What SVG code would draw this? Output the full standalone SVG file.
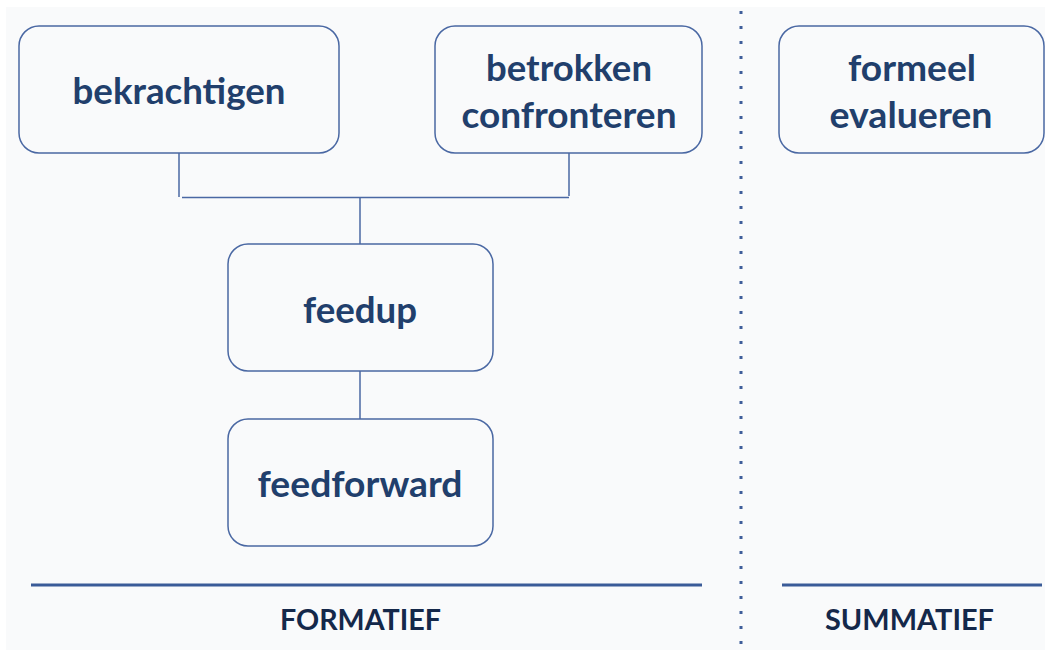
<svg xmlns="http://www.w3.org/2000/svg" width="1045" height="650" viewBox="0 0 1045 650">
<style>
.bg{fill:#f9fafb}
.node rect{fill:#f9fafb;stroke:#4a68a3;stroke-width:1.5}
.node text{font-family:Lato,"Open Sans","Liberation Sans",sans-serif;font-weight:bold;font-size:37px;fill:#213f6c;text-anchor:middle}
.conn path{fill:none;stroke:#4a68a3;stroke-width:1.5}
.sect{fill:none;stroke:#3a5b98;stroke-width:3}
.label{font-family:Lato,"Open Sans","Liberation Sans",sans-serif;font-weight:bold;font-size:29px;fill:#14284a;text-anchor:middle}
</style>
<rect width="1045" height="650" fill="#ffffff"/>
<rect class="bg" x="6" y="7" width="1039" height="643"/>
<g id="connectors" class="conn">
<path d="M179 153V197"/>
<path d="M569 153V196"/>
<path d="M182 197.5H569"/>
<path d="M360 197V244"/>
<path d="M360 371V419"/>
</g>
<g id="bekrachtigen" class="node">
<rect x="19" y="26" width="320" height="127" rx="20"/>
<text x="179" y="104" textLength="213" lengthAdjust="spacingAndGlyphs">bekrachtigen</text>
</g>
<g id="betrokken-confronteren" class="node">
<rect x="435" y="26" width="267" height="127" rx="20"/>
<text x="569" y="81" textLength="166" lengthAdjust="spacingAndGlyphs">betrokken</text>
<text x="569" y="128" textLength="215" lengthAdjust="spacingAndGlyphs">confronteren</text>
</g>
<g id="formeel-evalueren" class="node">
<rect x="779" y="26" width="265" height="127" rx="20"/>
<text x="912" y="81" textLength="128" lengthAdjust="spacingAndGlyphs">formeel</text>
<text x="911" y="128" textLength="163" lengthAdjust="spacingAndGlyphs">evalueren</text>
</g>
<g id="feedup" class="node">
<rect x="228" y="244" width="265" height="127" rx="20"/>
<text x="360" y="323" textLength="114" lengthAdjust="spacingAndGlyphs">feedup</text>
</g>
<g id="feedforward" class="node">
<rect x="228" y="419" width="265" height="127" rx="20"/>
<text x="360" y="497" textLength="205" lengthAdjust="spacingAndGlyphs">feedforward</text>
</g>
<g id="divider">
<line x1="741" y1="11" x2="741" y2="646" stroke="#3f5e9a" stroke-width="3" stroke-dasharray="3 12"/>
</g>
<g id="sections">
<line class="sect" x1="31" y1="585" x2="702" y2="585"/>
<line class="sect" x1="782" y1="585" x2="1042" y2="585"/>
<text class="label" x="360.5" y="630" textLength="161" lengthAdjust="spacingAndGlyphs">FORMATIEF</text>
<text class="label" x="909.5" y="630" textLength="169" lengthAdjust="spacingAndGlyphs">SUMMATIEF</text>
</g>
</svg>
